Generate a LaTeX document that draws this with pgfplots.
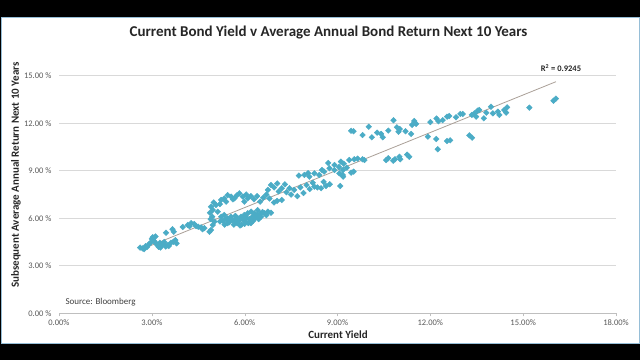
\documentclass[border=0pt]{standalone}
\usepackage{pgfplots}
\pgfplotsset{compat=1.18}
\usepackage{pgfplotstable}
\usepackage{fontspec}
\setmainfont{Carlito}
\definecolor{pt}{RGB}{75,172,198}
\definecolor{trend}{RGB}{170,160,152}
\definecolor{tickg}{RGB}{89,89,89}
\definecolor{frame}{RGB}{150,190,215}
\pgfplotstableread{
x y
2.62 4.15
2.70 4.10
2.75 4.05
2.80 4.25
2.85 4.20
2.90 4.35
2.95 4.45
3.00 4.70
3.03 4.80
3.05 4.60
3.08 4.55
3.12 4.85
3.15 4.40
3.18 4.30
3.22 4.20
3.26 4.45
3.28 4.15
3.30 4.35
3.35 4.38
3.40 4.50
3.45 4.22
3.50 4.30
3.55 4.25
3.62 4.46
3.70 4.52
3.76 4.62
3.80 4.42
3.46 5.09
3.67 5.31
3.71 5.15
4.16 5.58
4.22 5.50
4.27 5.69
4.37 5.64
4.43 5.51
4.50 5.47
4.59 5.43
4.64 5.31
4.00 5.45
4.70 5.38
4.86 5.15
4.91 5.26
4.97 5.58
5.02 5.79
4.90 5.95
4.95 6.10
4.91 6.73
4.97 6.52
5.07 6.84
5.13 6.42
4.88 6.35
5.00 7.00
5.24 7.16
5.34 7.26
5.45 7.47
5.56 7.37
5.67 7.26
5.83 7.58
5.94 7.37
5.99 7.05
6.10 7.26
5.20 6.90
5.40 7.05
5.62 7.20
5.75 7.45
6.05 7.50
6.20 7.40
5.24 6.10
5.30 5.85
5.34 6.21
5.40 5.95
5.45 6.00
5.50 5.75
5.56 6.10
5.60 5.90
5.67 5.89
5.70 6.15
5.75 5.70
5.78 6.00
5.82 5.85
5.88 6.10
5.90 5.60
5.95 5.95
5.99 6.21
6.02 5.80
6.05 6.05
6.10 6.32
6.12 5.70
6.15 5.95
6.21 6.42
6.25 6.10
6.28 5.85
6.31 6.32
6.35 6.05
6.40 6.20
6.42 6.52
6.45 5.95
6.50 6.30
6.53 6.10
6.58 6.40
6.64 6.32
6.70 6.20
6.75 6.42
5.45 5.69
5.65 5.60
5.85 5.55
6.00 5.65
5.20 5.80
5.35 5.60
6.20 5.70
6.85 6.35
6.30 7.20
6.40 7.40
6.50 7.05
6.60 7.30
6.70 7.50
6.95 7.00
7.05 7.10
7.20 7.16
6.80 7.25
6.75 7.80
6.85 8.10
6.95 7.95
7.05 8.20
7.10 7.70
7.20 7.90
7.30 8.15
7.35 7.65
7.45 7.90
7.50 7.50
7.60 7.80
7.70 7.40
7.80 7.95
7.90 7.60
8.00 8.10
8.10 7.85
8.20 8.25
8.25 8.00
8.35 7.95
8.47 7.90
8.55 8.30
8.63 8.04
8.75 8.15
9.09 8.04
7.75 8.70
7.93 8.74
8.05 8.85
8.09 8.63
8.25 8.84
8.41 8.74
8.50 9.05
8.57 8.95
8.74 9.16
8.90 9.05
9.06 8.84
8.70 9.50
8.90 9.37
9.05 9.24
9.18 9.05
9.18 8.63
9.11 9.58
9.17 8.74
9.30 9.20
9.38 9.68
9.44 8.88
9.52 8.95
9.54 9.73
9.65 9.77
9.81 9.73
9.87 9.68
9.20 9.45
9.44 11.53
9.52 11.50
9.81 11.26
10.01 11.79
10.11 11.12
10.28 11.41
10.41 11.33
10.46 11.12
10.64 11.54
10.81 12.19
10.92 11.75
11.01 11.64
10.97 11.47
11.20 11.50
11.38 11.33
11.41 11.90
11.48 12.15
11.54 11.96
11.92 11.16
12.00 12.08
12.26 12.13
10.57 9.68
10.64 9.79
10.80 9.64
10.86 9.73
11.00 9.89
11.03 9.73
11.25 10.02
11.32 9.89
12.24 10.36
12.19 11.01
12.54 10.88
12.64 10.93
12.54 12.42
12.61 12.46
12.83 12.38
12.97 12.59
13.05 12.59
13.34 12.53
13.42 12.63
13.53 12.80
13.58 12.84
13.48 12.42
13.73 12.32
13.81 12.67
13.96 13.05
14.02 12.63
14.18 12.74
14.23 12.53
14.39 12.84
14.48 13.01
14.45 12.67
13.26 11.24
13.35 11.09
15.20 12.99
15.98 13.43
16.06 13.56
12.20 12.30
12.40 12.20
}\data
\begin{document}
\begin{tikzpicture}
\useasboundingbox (0,0) rectangle (640pt,360pt);
\fill[black] (0,0) rectangle (640pt,360pt);
\filldraw[fill=white,draw=frame,line width=1pt] (1pt,17pt) rectangle (639pt,343pt);
\begin{axis}[
  at={(59pt,46.7pt)}, anchor=south west,
  scale only axis, width=557pt, height=253.3pt,
  xmin=0, xmax=18, ymin=0, ymax=16,
  axis lines*=left,
  x axis line style={draw=black!25},
  y axis line style={draw=none},
  xtick={0,3,6,9,12,15,18},
  xticklabels={0.00\%,3.00\%,6.00\%,9.00\%,12.00\%,15.00\%,18.00\%},
  ytick={0,3,6,9,12,15},
  yticklabels={0.00 \%,3.00 \%,6.00 \%,9.00 \%,12.00 \%,15.00 \%},
  ymajorgrids, grid style={draw=black!15, line width=0.8pt},
  tick align=outside, major tick length=3pt,
  xtick style={draw=black!25},
  ytick style={draw=none},
  tick label style={font=\fontsize{8.5}{10}\selectfont, text=tickg},
  yticklabel style={xshift=-1pt},
  clip=false,
]
\addplot[only marks, mark=square*, mark size=2pt, mark options={rotate=45, fill=pt, draw=pt}] table[x=x,y=y] {\data};
\addplot[no marks, trend, line width=0.8pt] coordinates {(2.65,4.03) (16.06,14.63)};
\end{axis}
\node[font=\bfseries\fontsize{15}{17}\selectfont, text=black!85] at (328.5pt,327pt) {Current Bond Yield v Average Annual Bond Return Next 10 Years};
\node[font=\bfseries\fontsize{11}{13}\selectfont, rotate=90, text=black!85] at (16pt,185pt) {Subsequent Average Annual Return Next 10 Years};
\node[font=\bfseries\fontsize{11}{13}\selectfont, text=black!85] at (338pt,25pt) {Current Yield};
\node[font=\fontsize{9}{11}\selectfont, text=black!75, anchor=west] at (62pt,58pt) {Source: Bloomberg};
\node[font=\bfseries\fontsize{8.5}{10}\selectfont, text=black!85] at (561pt,292pt) {R\textsuperscript{2} = 0.9245};
\end{tikzpicture}
\end{document}
